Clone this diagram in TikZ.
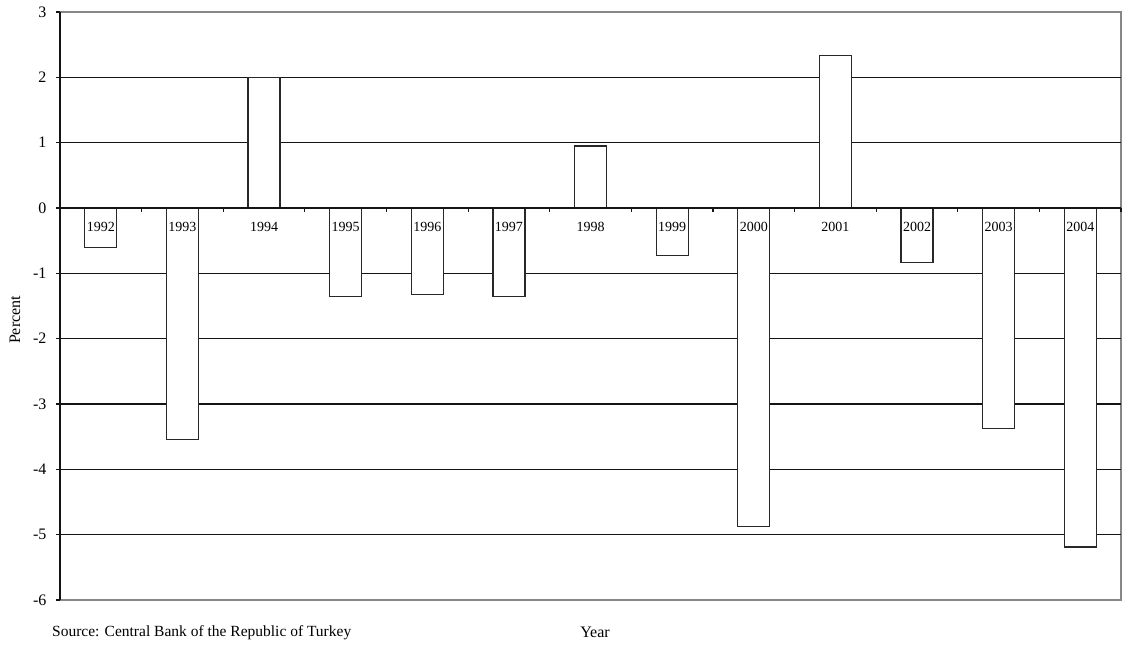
\documentclass[tikz,border=0pt]{standalone}
\usepackage{fontspec}
\setmainfont{Liberation Serif}
\usetikzlibrary{positioning}
\definecolor{InkBlack}{RGB}{20,20,20}
\definecolor{BarGrey}{RGB}{40,40,40}
\definecolor{FrameGrey}{RGB}{135,135,135}

\tikzset{
  gridline/.style={InkBlack, line width=1.2pt},
  barbox/.style={BarGrey, line width=1.2pt, fill=white},
  yearlabel/.style={font=\fontsize{14}{16}\selectfont, inner sep=0pt},
  ticklabel/.style={font=\fontsize{16}{18}\selectfont, anchor=east, inner sep=0pt}
}

\begin{document}
\begin{tikzpicture}[x=1pt, y=1pt]
    \useasboundingbox (0,0) rectangle (1125,648);
    \fill[white] (0,0) rectangle (1125,648);
    \begin{scope}[shift={(60,440)}, x=81.62pt, y=65.33pt]
        % Frame
        \draw[FrameGrey, line width=1.2pt] (0,3) -- (13,3) -- (13,-6) -- (0,-6);
        % Grid
        \foreach \g in {2,1,-1,-2,-3,-4,-5}
            \draw[gridline] (0,\g) -- (13,\g);
        % Bars
        \foreach \i/\yr/\v in {0/1992/-0.61, 1/1993/-3.54, 2/1994/2.0, 3/1995/-1.36,
                               4/1996/-1.33, 5/1997/-1.36, 6/1998/0.95, 7/1999/-0.73,
                               8/2000/-4.87, 9/2001/2.33, 10/2002/-0.84, 11/2003/-3.38,
                               12/2004/-5.19} {
            \draw[barbox] (\i+0.304,0) rectangle (\i+0.696,\v);
        }
        % Axes
        \draw[InkBlack, line width=1.4pt] (0,-6) -- (0,3);
        \foreach \g in {3,2,...,-6}
            \draw[InkBlack, line width=1.2pt] (-0.05,\g) -- (0,\g);
        \draw[InkBlack, line width=2.2pt] (0,0) -- (13,0);
        \foreach \k in {1,...,13}
            \draw[InkBlack, line width=1.2pt] (\k,0) -- (\k,-0.06);
        % Labels
        \foreach \i/\yr in {0/1992, 1/1993, 2/1994, 3/1995, 4/1996, 5/1997, 6/1998,
                            7/1999, 8/2000, 9/2001, 10/2002, 11/2003, 12/2004}
            \node[yearlabel] (yr\yr) at (\i+0.5,-0.29) {\yr};
        \foreach \g in {3,2,1,0,-1,-2,-3,-4,-5,-6}
            \node[ticklabel] (tick\g) at (-0.165,\g) {\g};
    \end{scope}
    \node[rotate=90, font=\fontsize{16}{18}\selectfont, inner sep=0pt] (percent) at (15,328) {Percent};
    \node[font=\fontsize{16}{18}\selectfont, inner sep=0pt] (year) at (595,16) {Year};
    \node[font=\fontsize{15.5}{17}\selectfont, anchor=west, inner sep=0pt] (source) at (52,15)
        {Source: Central Bank of the Republic of Turkey};
\end{tikzpicture}
\end{document}
